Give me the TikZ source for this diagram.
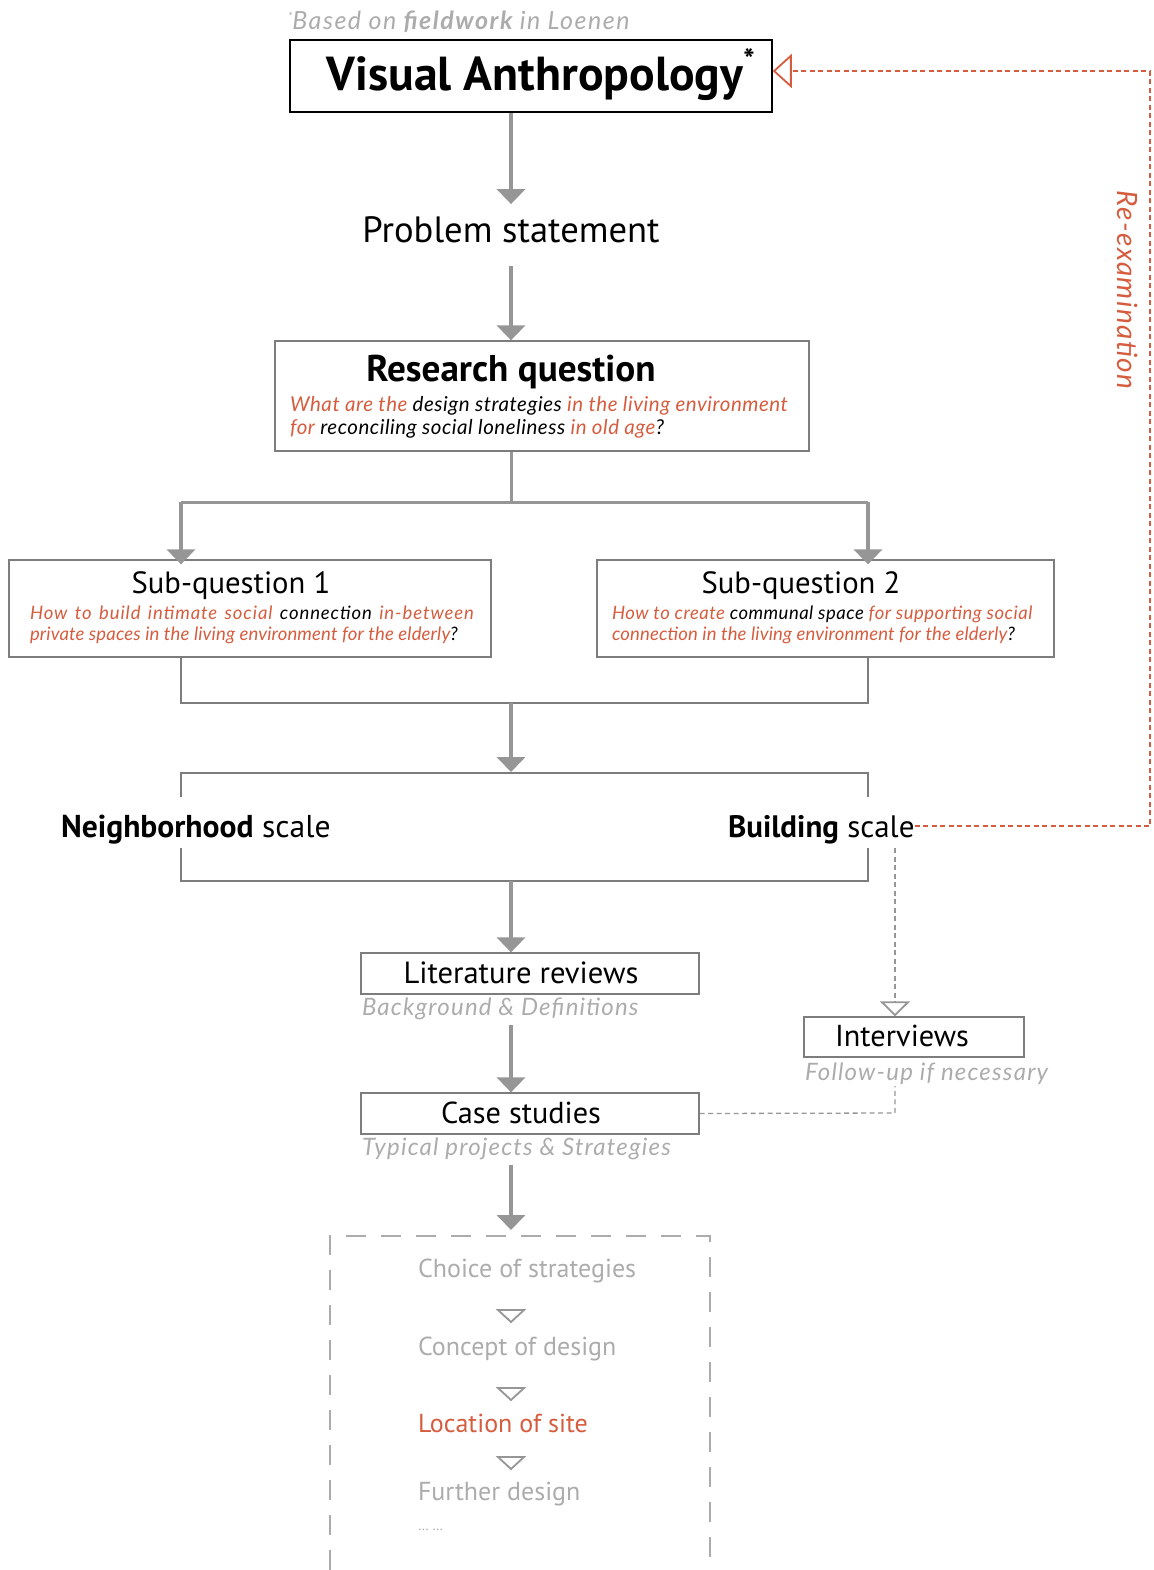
\documentclass[tikz,border=0pt]{standalone}
\usepackage{fontspec}
\setmainfont{PT Sans}
\newfontfamily\latof{Lato}
\newfontfamily\latoa{Lato}[LetterSpace=2.6]
\newfontfamily\latob{Lato}[LetterSpace=0.8]
\newfontfamily\latoc{Lato}[LetterSpace=5]
\newfontfamily\latod{Lato}[LetterSpace=6]
\usetikzlibrary{arrows.meta}
\definecolor{accent}{RGB}{214,92,62}
\definecolor{lightgray}{RGB}{172,172,172}
\definecolor{arrgray}{RGB}{150,150,150}
\definecolor{boxgray}{RGB}{125,125,125}
\newcommand\fsz[1]{\fontsize{#1}{#1}\selectfont}
\newcommand\rd[1]{\textcolor{accent}{#1}}
\tikzset{
  box/.style={draw=boxgray, line width=1.3pt, rectangle, inner sep=0pt},
  txt/.style={inner sep=0pt, outer sep=0pt},
  garrow/.style={draw=arrgray, line width=4pt, -{Triangle[width=28pt,length=15pt]}},
  gline/.style={draw=arrgray, line width=3pt},
  bline/.style={draw=boxgray, line width=1.8pt},
  sub/.style={txt, font=\latob\itshape\fsz{18.5}, align=left},
  rqsub/.style={txt, font=\latoa\itshape\fsz{20.5}, align=left},
  note/.style={txt, text=lightgray, font=\latoc\itshape\fsz{24}},
  stage/.style={txt, anchor=base west, text=lightgray, font=\fsz{26}},
}
\begin{document}
\begin{tikzpicture}[x=1pt,y=-1pt]
\useasboundingbox (0,0) rectangle (1153,1570);
% footnote
\node[txt, anchor=base west, text=lightgray, font=\latod\itshape\fsz{25}] (fn) at (288,30) {\raisebox{9pt}{\fsz{11}*}Based on \textbf{fieldwork} in Loenen};
% Visual anthropology
\node[box, draw=black, line width=1.5pt, minimum width=482pt, minimum height=72pt] (va) at (531,76) {};
\node[txt, anchor=base, font=\bfseries\fsz{47.7}] (vat) at (535,91) {Visual Anthropology};
\node[txt, font=\bfseries\fsz{30}] (ast) at (749,60) {*};
% problem statement
\node[txt, anchor=base, font=\fsz{36.6}] (ps) at (511,243) {Problem statement};
\draw[garrow] (va.south -| ps.base) -- ([yshift=13pt]ps.north);
% research question
\node[box, minimum width=534pt, minimum height=110pt] (rq) at (542,396) {};
\node[txt, anchor=base, font=\bfseries\fsz{37.2}] (rqt) at (511,381) {Research question};
\node[rqsub, anchor=base west] (rqs) at (290,411) {\rd{What are the} design strategies \rd{in the living environment}};
\node[rqsub, anchor=base west] (rqs2) at (290,434) {\rd{for} reconciling social loneliness \rd{in old age}?};
\draw[garrow] ([yshift=-23pt]ps.south) -- (rq.north -| ps.base);
% split
\coordinate (splitl) at (181,502);
\coordinate (splitr) at (868,502);
\draw[gline] (rq.south -| rqt.base) -- (511,502);
\draw[gline] (splitl) -- (splitr);
% sub-questions
\node[box, minimum width=482pt, minimum height=97pt] (sq1) at (250,608.5) {};
\node[txt, anchor=base, font=\fsz{30.7}] (sq1t) at (231,593) {Sub-question 1};
\node[sub, anchor=base west, font=\latoc\itshape\fsz{18.5}] (sq1a) at (30,619) {\makebox[444pt][s]{\rd{How to build intimate social} connection \rd{in-between}}};
\node[sub, anchor=base west] (sq1b) at (30,640) {\rd{private spaces in the living environment for the elderly}?};
\node[box, minimum width=457pt, minimum height=97pt] (sq2) at (825.5,608.5) {};
\node[txt, anchor=base, font=\fsz{30.7}] (sq2t) at (801,593) {Sub-question 2};
\node[sub, anchor=base west, font=\latoa\itshape\fsz{18.5}] (sq2a) at (612,619) {\rd{How to create} communal space \rd{for supporting social}};
\node[sub, anchor=base west] (sq2b) at (612,640) {\rd{connection in the living environment for the elderly}?};
\draw[garrow] (splitl) -- ([yshift=-5pt]sq1.north -| splitl);
\draw[garrow] (splitr) -- ([yshift=-5pt]sq2.north -| splitr);
% merge
\coordinate (mergel) at (181,703);
\coordinate (merger) at (868,703);
\coordinate (mergec) at (511,703);
\draw[bline] (sq1.south -| mergel) -- (mergel) -- (merger) -- (sq2.south -| merger);
% scale bracket
\node[txt, anchor=base west, font=\fsz{31.6}] (nb) at (61,837) {\textbf{Neighborhood} scale};
\node[txt, anchor=base west, font=\fsz{31}] (bs) at (728,837) {\textbf{Building} scale};
\draw[garrow] (mergec) -- (511,772);
\draw[bline] (181,797) -- (181,773) -- (868,773) -- (868,797);
\draw[bline] (181,848) -- (181,881) -- (868,881) -- (868,848);
% re-examination loop
\draw[accent, line width=1.3pt, dash pattern=on 5pt off 3.5pt, -{Triangle[open,width=34pt,length=19pt,line width=1.8pt]}]
  (bs.east |- 0,826) -- (1150,826) -- (1150,71) -- (va.east |- 0,71);
\node[txt, rotate=-90, text=accent, font=\latoc\itshape\fsz{28}] (re) at (1128,290) {Re-examination};
% literature reviews
\node[box, minimum width=338pt, minimum height=41pt] (lit) at (530,973.5) {};
\node[txt, font=\fsz{30.6}] (litt) at (521,973) {Literature reviews};
\node[note, anchor=base west] (lits) at (362,1015) {Background \& Definitions};
\draw[garrow] (511,881) -- (lit.north -| 511,0);
% case studies
\node[box, minimum width=338pt, minimum height=41pt] (cs) at (530,1113.5) {};
\node[txt, font=\fsz{30.3}] (cst) at (521,1113) {Case studies};
\node[note, anchor=base west] (css) at (362,1155) {Typical projects \& Strategies};
\draw[garrow] (511,1025) -- (cs.north -| 511,0);
% interviews
\node[box, minimum width=220pt, minimum height=40pt] (iv) at (914,1037) {};
\node[txt, font=\fsz{30.3}] (ivt) at (902,1036) {Interviews};
\node[note, anchor=base west] (ivs) at (805,1080) {Follow-up if necessary};
\draw[arrgray, line width=1.3pt, dash pattern=on 5pt off 3.5pt, -{Triangle[open,width=30pt,length=15pt,line width=1.8pt]}]
  (895,848) -- (iv.north -| 895,0);
\draw[arrgray, line width=1.3pt, dash pattern=on 5pt off 3.5pt] (cs.east) -- (895,1113) -- (895,1086);
% design process dashed box
\draw[garrow] (511,1165) -- (511,1230);
\draw[lightgray, line width=1.6pt, dash pattern=on 20pt off 15pt] (330,1570) -- (330,1236) -- (710,1236) -- (710,1570);
\node[stage] (ch) at (418,1277) {Choice of strategies};
\node[stage] (co) at (418,1355) {Concept of design};
\node[stage, text=accent] (lo) at (418,1432) {Location of site};
\node[stage] (fu) at (418,1500) {Further design};
\node[txt, anchor=base west, text=lightgray, font=\fsz{14}] (dots) at (418,1530) {\dots\ \dots};
\foreach \ty in {1310,1388,1457}{
  \draw[arrgray, line width=1.8pt, line join=miter] (498,\ty) -- (524,\ty) -- (511,\ty+12) -- cycle;
}
\end{tikzpicture}
\end{document}
